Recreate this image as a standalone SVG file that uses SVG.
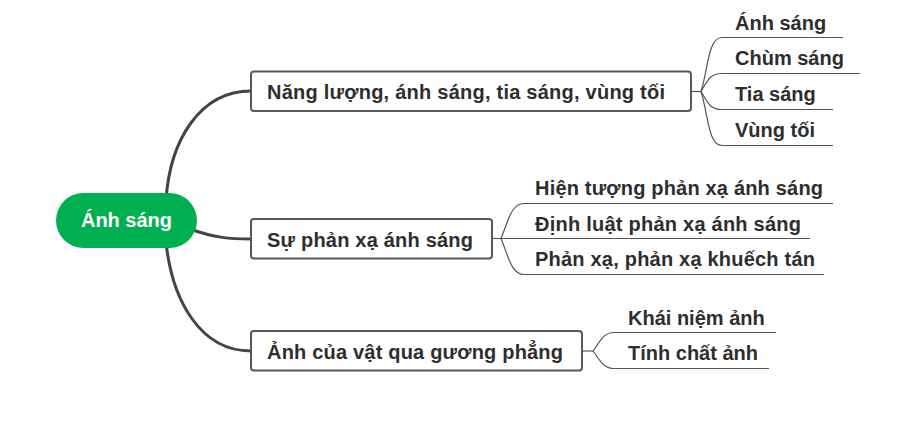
<svg xmlns="http://www.w3.org/2000/svg" width="922" height="424" viewBox="0 0 922 424">
<style>
text{font-family:"Liberation Sans",Arial,sans-serif;font-weight:bold;font-size:20px;fill:#2e2e2e}
.root text{fill:#ffffff}
.box{fill:#ffffff;stroke:#595959;stroke-width:2}
.main{fill:none;stroke:#444444;stroke-width:3}
.sub{fill:none;stroke:#555555;stroke-width:1.2}
</style>
<rect width="922" height="424" fill="#ffffff"/>
<g id="connectors">
<path class="main" d="M166,200 C170,140 200,91 251,91"/>
<path class="main" d="M190,229 C215,238 230,239 251,239"/>
<path class="main" d="M166,242 C172,300 200,351 251,351"/>
<path class="sub" d="M691,91.5 H701"/>
<path class="sub" d="M701,91.5 C708,70 708,37.5 722,37.5 H843"/>
<path class="sub" d="M701,91.5 C708,80 710,73.5 722,73.5 H860"/>
<path class="sub" d="M701,91.5 C708,103 710,109.5 722,109.5 H833"/>
<path class="sub" d="M701,91.5 C708,113 708,145.5 722,145.5 H833"/>
<path class="sub" d="M492,238.5 H810"/>
<path class="sub" d="M501,238.5 C508,222 511,203.5 524,203.5 H833"/>
<path class="sub" d="M501,238.5 C508,255 511,274.5 524,274.5 H824"/>
<path class="sub" d="M582,351 H593"/>
<path class="sub" d="M593,351 C600,342 603,332.5 614,332.5 H776"/>
<path class="sub" d="M593,351 C600,360 603,368.5 614,368.5 H769"/>
</g>
<g id="root" class="root">
<rect x="56" y="193" width="141" height="55" rx="27.5" fill="#00b050"/>
<text x="126.5" y="227" text-anchor="middle">Ánh sáng</text>
</g>
<g id="n1">
<rect class="box" x="251" y="71.5" width="440" height="39.5" rx="3"/>
<text x="267" y="99" textLength="398" lengthAdjust="spacing">Năng lượng, ánh sáng, tia sáng, vùng tối</text>
</g>
<g id="n1a"><text x="735" y="29.5">Ánh sáng</text></g>
<g id="n1b"><text x="735" y="65">Chùm sáng</text></g>
<g id="n1c"><text x="735" y="101">Tia sáng</text></g>
<g id="n1d"><text x="735" y="137">Vùng tối</text></g>
<g id="n2">
<rect class="box" x="251" y="219" width="241" height="39.5" rx="3"/>
<text x="267" y="247" textLength="206" lengthAdjust="spacing">Sự phản xạ ánh sáng</text>
</g>
<g id="n2a"><text x="535" y="195" textLength="288" lengthAdjust="spacing">Hiện tượng phản xạ ánh sáng</text></g>
<g id="n2b"><text x="535" y="231" textLength="266" lengthAdjust="spacing">Định luật phản xạ ánh sáng</text></g>
<g id="n2c"><text x="535" y="266" textLength="280" lengthAdjust="spacing">Phản xạ, phản xạ khuếch tán</text></g>
<g id="n3">
<rect class="box" x="251" y="331" width="331" height="39.5" rx="3"/>
<text x="267" y="359" textLength="296" lengthAdjust="spacing">Ảnh của vật qua gương phẳng</text>
</g>
<g id="n3a"><text x="628" y="325">Khái niệm ảnh</text></g>
<g id="n3b"><text x="628" y="360">Tính chất ảnh</text></g>
</svg>
